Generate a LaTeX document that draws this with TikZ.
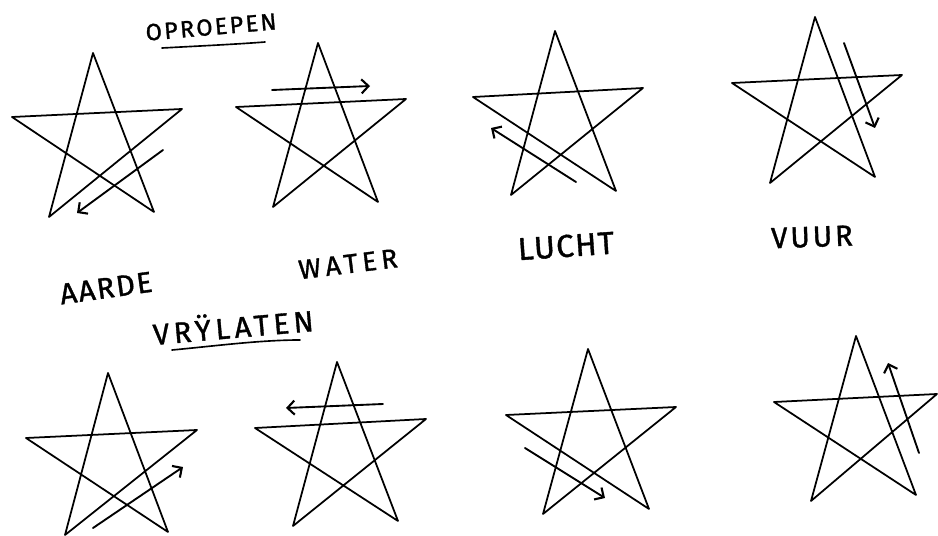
\documentclass[tikz,border=0pt]{standalone}
\usepackage{fontspec}
\setsansfont{Fira Sans}[FakeBold=1.2]
\usetikzlibrary{arrows.meta}

% pentagram through apex, left, right, bottom-left, bottom-right
\newcommand{\pentstar}[5]{\draw[starline] #1 -- #4 -- #3 -- #2 -- #5 -- cycle;}

\begin{document}
\begin{tikzpicture}[x=0.03cm,y=-0.03cm,line cap=round,line join=round,
  starline/.style={line width=1.5pt},
  hint/.style={line width=1.6pt,-{Straight Barb[length=6pt,width=12pt,line width=1.8pt]}},
  word/.style n args={2}{font=\sffamily\fontsize{#1}{30}\selectfont\addfontfeature{LetterSpace=#2},inner sep=0pt},
  uline/.style={line width=1.4pt}]
  \useasboundingbox (0,0) rectangle (938,536);
  % top row
  \pentstar{(93,53)}{(12,117)}{(182,109)}{(49,217)}{(154,212)}
  \pentstar{(318,43)}{(236,107)}{(406,99)}{(273,207)}{(378,202)}
  \pentstar{(555,31)}{(473,97)}{(643,88)}{(511,195)}{(616,191)}
  \pentstar{(815,17)}{(732,83)}{(902,75)}{(770,183)}{(875,177)}
  \coordinate (a1) at (163,150); \coordinate (b1) at (77,213);
  \coordinate (a2) at (272,90);  \coordinate (b2) at (370,86);
  \coordinate (a3) at (576,182); \coordinate (b3) at (491,128);
  \coordinate (a4) at (844,43);  \coordinate (b4) at (875,128);
  \draw[hint] (a1) -- (b1);
  \draw[hint] (a2) -- (b2);
  \draw[hint] (a3) -- (b3);
  \draw[hint] (a4) -- (b4);
  % bottom row
  \pentstar{(108,373)}{(26,438)}{(197,430)}{(65,535)}{(168,532)}
  \pentstar{(337,362)}{(255,428)}{(426,419)}{(293,526)}{(398,521)}
  \pentstar{(588,349)}{(506,415)}{(676,407)}{(543,514)}{(649,509)}
  \pentstar{(856,336)}{(774,402)}{(937,394)}{(811,501)}{(916,495)}
  \coordinate (a5) at (93,528);  \coordinate (b5) at (183,467);
  \coordinate (a6) at (383,404); \coordinate (b6) at (286,408);
  \coordinate (a7) at (525,448); \coordinate (b7) at (605,498);
  \coordinate (a8) at (919,453); \coordinate (b8) at (888,363);
  \draw[hint] (a5) -- (b5);
  \draw[hint] (a6) -- (b6);
  \draw[hint] (a7) -- (b7);
  \draw[hint] (a8) -- (b8);
  % labels
  \node[word={20}{10},rotate=5] (oproepen) at (211,27) {OPROEPEN};
  \draw[uline] (162,48) .. controls (200,46) and (240,44) .. (265,42);
  \node[word={25}{6},rotate=8] (aarde) at (106,288) {AARDE};
  \node[word={23}{17},rotate=7] (water) at (348,264) {WATER};
  \node[word={27}{4},rotate=4] (lucht) at (566,246) {LUCHT};
  \node[word={25}{10},rotate=2] (vuur) at (812,237) {VUUR};
  \node[word={25}{15},rotate=5] (vrijlaten) at (233,325) {VRŸLATEN};
  \draw[uline] (172,350) .. controls (215,346) and (260,340) .. (300,340);
\end{tikzpicture}
\end{document}
